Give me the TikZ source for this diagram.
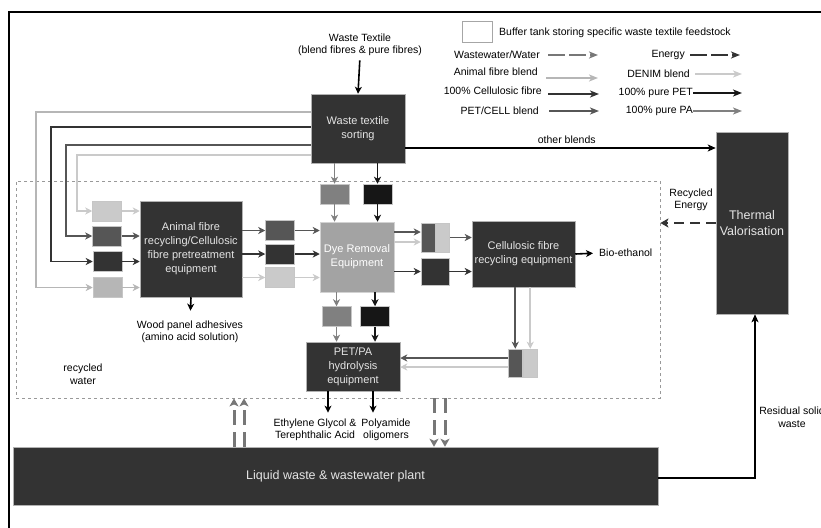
\documentclass[tikz,border=0pt]{standalone}
\usepackage{fontspec}
\setmainfont{Liberation Sans}
\usetikzlibrary{arrows.meta,positioning}

\definecolor{unitfill}{HTML}{333333}
\definecolor{dyefill}{HTML}{A3A3A3}
\definecolor{petcol}{HTML}{161616}
\definecolor{pacol}{HTML}{808080}
\definecolor{celcol}{HTML}{333333}
\definecolor{pccol}{HTML}{565656}
\definecolor{anicol}{HTML}{B6B6B6}
\definecolor{dencol}{HTML}{CACACA}
\definecolor{watcol}{HTML}{777777}

\begin{document}
\begin{tikzpicture}[x=1pt,y=-1pt,
  unit/.style={draw=gray!60,line width=.5pt,fill=unitfill,text=white!90!black,inner sep=0pt,align=center,font=\fontsize{11}{14}\selectfont},
  bigunit/.style={unit,font=\fontsize{12.5}{15.5}\selectfont},
  tank/.style={draw=gray!45,line width=.5pt,inner sep=0pt,minimum width=29pt,minimum height=20pt},
  lbl/.style={align=center,inner sep=0pt,font=\fontsize{10.5}{12.5}\selectfont},
  flow/.style={line width=1.6pt,-{Stealth[length=7pt,width=7pt,inset=2pt]}},
  feed/.style={line width=1.3pt,-{Stealth[length=7pt,width=7pt,inset=2pt]}},
  legflow/.style={line width=1.6pt,-{Stealth[length=9pt,width=7pt,inset=2.5pt]}},
  water/.style={watcol,line width=3pt,dash pattern=on 15pt off 7pt,-{Stealth[length=8pt,width=9pt,inset=2pt]}},
  energy/.style={celcol,line width=2.6pt,dash pattern=on 10pt off 6pt,-{Stealth[length=8pt,width=9pt,inset=2pt]}}]
\useasboundingbox (0,0) rectangle (821,527);
% frame (cut at the right and bottom)
\draw[line width=1.5pt] (9,12) rectangle (840,545);
% plant boundary
\node[draw=gray!80,dashed,line width=.8pt,minimum width=644pt,minimum height=217pt,inner sep=0pt] (zone) at (338,289.5) {};

% legend
\node[draw=gray!70,line width=.6pt,minimum width=30pt,minimum height=21pt,inner sep=0pt] (legtank) at (477,31.5) {};
\node[lbl,anchor=west] (legtanktext) at (499,33) {Buffer tank storing specific waste textile feedstock};
\node[lbl,anchor=east] (lww) at (540,55) {Wastewater/Water};
\draw[legflow,watcol,line width=2.4pt,dash pattern=on 17pt off 4pt] (lww.east) ++(8,0) -- ++(50,0);
\node[lbl,anchor=east] (len) at (685,55) {Energy};
\draw[legflow,celcol,line width=2.4pt,dash pattern=on 17pt off 4pt] (len.east) ++(5,0) -- ++(50,0);
\node[lbl,anchor=east] (lani) at (538,72) {Animal fibre blend};
\draw[legflow,anicol] (lani.east |- 0,78) ++(8,0) -- ++(52,0);
\node[lbl,anchor=east] (lden) at (690,74) {DENIM blend};
\draw[legflow,dencol] (lden.east) ++(5,0) -- ++(47,0);
\node[lbl,anchor=east] (lcel) at (542,91) {100\% Cellulosic fibre};
\draw[legflow,celcol] (lcel.east |- 0,94) ++(6,0) -- ++(51,0);
\node[lbl,anchor=east] (lpet) at (693,93) {100\% pure PET};
\draw[legflow,petcol] (lpet.east) -- ++(49,0);
\node[lbl,anchor=east] (lpc) at (539,111) {PET/CELL blend};
\draw[legflow,pccol] (lpc.east) ++(10,0) -- ++(50,0);
\node[lbl,anchor=east] (lpa) at (693,111) {100\% pure PA};
\draw[legflow,pacol] (lpa.east) -- ++(49,0);

% units
\node[lbl] (wt) at (360,45) {Waste Textile\\(blend fibres \& pure fibres)};
\node[unit,minimum width=94pt,minimum height=69pt] (sort) at (358,128.5) {Waste textile\\sorting};
\node[unit,minimum width=102pt,minimum height=96pt] (animal) at (191,249) {Animal fibre\\recycling/Cellulosic\\fibre pretreatment\\equipment};
\node[unit,fill=dyefill,draw=gray!35,text=white,minimum width=74pt,minimum height=70pt] (dye) at (357,257) {Dye Removal\\Equipment};
\node[unit,minimum width=103pt,minimum height=66pt] (cell) at (523.5,254) {Cellulosic fibre\\recycling equipment};
\node[unit,minimum width=94pt,minimum height=49pt] (pet) at (353,366.5) {PET/PA\\hydrolysis\\equipment};
\node[bigunit,minimum width=72pt,minimum height=182pt] (thermal) at (752,223) {Thermal\\Valorisation};
\node[bigunit,minimum width=645pt,minimum height=58pt] (plant) at (335.5,476) {Liquid waste \& wastewater plant};

% buffer tanks
\node[tank,fill=dencol] (la) at (107,211) {};
\node[tank,fill=pccol] (lb) at (107,236) {};
\node[tank,fill=celcol] (lc) at (107.5,261.5) {};
\node[tank,fill=anicol] (ld) at (107.5,287.5) {};
\node[tank,fill=pccol] (ma) at (280,230.5) {};
\node[tank,fill=celcol] (mb) at (280,254) {};
\node[tank,fill=dencol] (mc) at (280,277.5) {};
\node[tank,fill=pacol] (ta) at (334.5,194) {};
\node[tank,fill=petcol] (tb) at (377.5,194) {};
\node[tank,fill=pacol] (ba) at (336.5,316.5) {};
\node[tank,fill=petcol] (bb) at (375,316.5) {};
\node[tank,fill=pccol,minimum width=14pt,minimum height=29pt] (raL) at (428,237.5) {};
\node[tank,fill=dencol,minimum width=14pt,minimum height=29pt,right=0pt of raL] (raR) {};
\node[tank,fill=celcol,minimum width=28pt,minimum height=27pt] (rb) at (435,271.5) {};
\node[tank,fill=pccol,minimum width=14.5pt,minimum height=28pt] (saL) at (515.25,363) {};
\node[tank,fill=dencol,minimum width=14.5pt,minimum height=28pt,right=0pt of saL] (saR) {};

% labels
\node[lbl] (wood) at (190,332) {Wood panel adhesives\\(amino acid solution)};
\node[lbl] (egta) at (315,430) {Ethylene Glycol \&\\Terephthalic Acid};
\node[lbl] (poly) at (386,430) {Polyamide\\oligomers};
\node[lbl,anchor=west] (bio) at (599,253) {Bio-ethanol};
\node[lbl] (rwater) at (83,374) {recycled\\water};
\node[lbl] (renergy) at (691,200) {Recycled\\Energy};
\node[lbl] (resid) at (792,417) {Residual solid\\waste};

% sorting
\draw[flow,black,shorten <=4pt] (wt.south) -- (sort.north);
\draw[feed,anicol] (sort.west |- 0,112) -- (36,112) |- (ld.west);
\draw[feed,celcol] (sort.west |- 0,127) -- (51,127) |- (lc.west);
\draw[feed,pccol] (sort.west |- 0,145) -- (66,145) |- (lb.west);
\draw[feed,dencol] (sort.west |- 0,155) -- (77,155) |- (la.west);
\draw[flow,pacol] (sort.south -| ta) -- (ta.north);
\draw[flow,petcol] (sort.south -| tb) -- (tb.north);
\draw[line width=2pt,black,-{Stealth[length=8pt,width=7pt,inset=2pt]}] (sort.east |- 0,148) -- (thermal.west |- 0,148)
  node[lbl,pos=.52,above=3pt] (other) {other blends};

% animal fibre unit
\draw[flow,dencol] (la.east) -- (animal.west |- la);
\draw[flow,pccol] (lb.east) -- (animal.west |- lb);
\draw[flow,celcol] (lc.east) -- (animal.west |- lc);
\draw[flow,anicol] (ld.east) -- (animal.west |- ld);
\draw[flow,black,shorten >=10pt] (animal.south) -- (wood.north);
\draw[flow,pccol] (animal.east |- ma) -- (ma.west);
\draw[flow,celcol] (animal.east |- mb) -- (mb.west);
\draw[flow,dencol] (animal.east |- mc) -- (mc.west);

% dye removal
\draw[flow,pccol] (ma.east) -- (dye.west |- ma);
\draw[flow,celcol] (mb.east) -- (dye.west |- mb);
\draw[flow,dencol] (mc.east) -- (dye.west |- mc);
\draw[flow,pacol] (ta.south) -- (dye.north -| ta);
\draw[flow,petcol] (tb.south) -- (dye.north -| tb);
\draw[flow,pccol] (dye.east |- 0,232) -- (raL.west |- 0,232);
\draw[flow,dencol] (dye.east |- 0,242) -- (raL.west |- 0,242);
\draw[flow,celcol] (dye.east |- rb) -- (rb.west);
\draw[flow,pacol] (dye.south -| ba) -- (ba.north);
\draw[flow,petcol] (dye.south -| bb) -- (bb.north);

% cellulosic unit
\draw[flow,pccol] (raR.east) -- (cell.west |- raR);
\draw[flow,celcol] (rb.east) -- (cell.west |- rb);
\draw[flow,black,shorten >=6pt] (cell.east) -- (bio.west);
\draw[flow,pccol] (cell.south -| saL) -- (saL.north);
\draw[flow,dencol] (cell.south -| saR) -- (saR.north);

% PET/PA unit
\draw[flow,pacol] (ba.south) -- (pet.north -| ba);
\draw[flow,petcol] (bb.south) -- (pet.north -| bb);
\draw[flow,pccol] (saL.west |- 0,358) -- (pet.east |- 0,358);
\draw[flow,dencol] (saL.west |- 0,367) -- (pet.east |- 0,367);
\draw[flow,black,shorten >=6pt] (pet.south -| 328,0) -- (egta.north -| 328,0);
\draw[flow,black,shorten >=6pt] (pet.south -| 373,0) -- (poly.north -| 373,0);

% water and energy
\draw[water] (plant.north -| 234,0) -- (zone.south -| 234,0);
\draw[water] (plant.north -| 244,0) -- (zone.south -| 244,0);
\draw[water] (zone.south -| 434,0) -- (plant.north -| 434,0);
\draw[water] (zone.south -| 445,0) -- (plant.north -| 445,0);
\draw[energy] (thermal.west |- 0,223) -- (zone.east |- 0,223);
\draw[line width=2pt,black,-{Stealth[length=8pt,width=7pt,inset=2pt]}] (plant.east |- 0,478) -| ([xshift=3pt]thermal.south);
\end{tikzpicture}
\end{document}
